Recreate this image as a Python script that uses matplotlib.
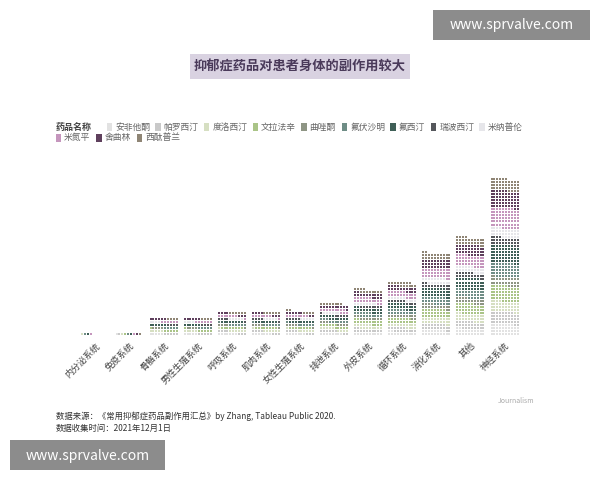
import numpy as np
import matplotlib.pyplot as plt
import matplotlib.patches as mpatches

plt.rcParams['font.family'] = ['Noto Sans CJK SC', 'DejaVu Sans']

systems = ['内分泌系统', '免疫系统', '骨骼系统', '男性生殖系统', '呼吸系统', '肌肉系统',
           '女性生殖系统', '排泄系统', '外皮系统', '循环系统', '消化系统', '其他', '神经系统']
drugs = ['安非他酮', '帕罗西汀', '度洛西汀', '文拉法辛', '曲唑酮', '氟伏沙明',
         '氟西汀', '瑞波西汀', '米纳普伦', '米氮平', '舍曲林', '西酞普兰']
colors = ['#e2e2e2', '#c9c9c9', '#d6dfc2', '#aac487', '#8e9584', '#6f8d86',
          '#3f5f57', '#55575c', '#e6e6ea', '#c596bd', '#5f405d', '#8f8575']

# side-effect counts per drug (rows) and system (columns)
counts = np.array([
    [0, 1, 5, 5, 7, 7, 7, 8, 10, 12, 18, 22, 38],   # 安非他酮
    [0, 1, 5, 5, 7, 7, 7, 8, 12, 14, 20, 24, 40],   # 帕罗西汀
    [1, 1, 5, 5, 7, 7, 7, 9, 14, 14, 22, 26, 36],   # 度洛西汀
    [0, 1, 6, 6, 8, 8, 8, 11, 16, 18, 28, 34, 52],  # 文拉法辛
    [0, 0, 4, 4, 5, 5, 5, 7, 10, 12, 16, 18, 26],   # 曲唑酮
    [1, 1, 5, 5, 7, 7, 7, 10, 14, 16, 24, 28, 46],  # 氟伏沙明
    [1, 1, 6, 6, 8, 8, 9, 12, 16, 20, 30, 36, 60],  # 氟西汀
    [0, 0, 4, 4, 5, 5, 5, 6, 8, 10, 14, 18, 26],    # 瑞波西汀
    [0, 0, 4, 4, 5, 5, 5, 6, 8, 10, 16, 20, 30],    # 米纳普伦
    [1, 1, 6, 6, 8, 8, 8, 12, 18, 20, 32, 38, 64],  # 米氮平
    [0, 1, 6, 6, 7, 7, 8, 11, 16, 18, 30, 34, 58],  # 舍曲林
    [0, 1, 4, 4, 6, 6, 6, 8, 12, 14, 22, 26, 40],   # 西酞普兰
])

ncol = 10
fig = plt.figure(figsize=(6, 4.8), dpi=100)
ax = fig.add_axes([0.125, 0.30, 0.75, 0.35])

for i in range(len(systems)):
    k = 0
    for d in range(len(drugs)):
        n = counts[d, i]
        idx = np.arange(k, k + n)
        xs = i + (idx % ncol - (ncol - 1) / 2) * 0.085
        ys = idx // ncol + 0.5
        ax.scatter(xs, ys, s=3.0, marker='s', color=colors[d], linewidths=0)
        k += n

ax.set_xlim(-0.6, len(systems) - 0.4)
ax.set_ylim(0, 55)
ax.set_xticks(range(len(systems)))
ax.set_xticklabels(systems, rotation=45, ha='right', rotation_mode='anchor',
                   fontsize=6.5, color='#444444')
ax.set_yticks([])
ax.tick_params(axis='x', length=0)
for s in ax.spines.values():
    s.set_visible(False)

# title box
fig.patches.append(mpatches.Rectangle((0.317, 0.835), 0.366, 0.052, transform=fig.transFigure,
                                      facecolor='#d9d2e1', edgecolor='none'))
fig.text(0.5, 0.861, '抑郁症药品对患者身体的副作用较大', ha='center', va='center',
         fontsize=9.5, fontweight='bold', color='#4a3a5a')

# legend
fig.text(0.093, 0.735, '药品名称', fontsize=6.5, fontweight='bold', color='#444444', va='center')
x = 0.178
for j, name in enumerate(drugs):
    if j == 9:
        x = 0.093
    y = 0.735 if j < 9 else 0.713
    fig.patches.append(mpatches.Rectangle((x, y - 0.008), 0.009, 0.016, transform=fig.transFigure,
                                          facecolor=colors[j], edgecolor='none'))
    fig.text(x + 0.014, y, name, fontsize=6.3, color='#666666', va='center')
    x += 0.014 + len(name) * 0.0135 + 0.013

# source notes
fig.text(0.093, 0.128, '数据来源：《常用抑郁症药品副作用汇总》by Zhang, Tableau Public 2020.',
         fontsize=6, color='#333333')
fig.text(0.093, 0.103, '数据收集时间：2021年12月1日', fontsize=6, color='#333333')
fig.text(0.86, 0.16, 'Journalism', fontsize=5, color='#aaaaaa', ha='center', style='italic')

# watermarks
fig.patches.append(mpatches.Rectangle((0.722, 0.917), 0.262, 0.063, transform=fig.transFigure,
                                      facecolor='#8c8c8c', edgecolor='none'))
fig.text(0.853, 0.948, 'www.sprvalve.com', ha='center', va='center', fontsize=10, color='white')
fig.patches.append(mpatches.Rectangle((0.017, 0.02), 0.258, 0.063, transform=fig.transFigure,
                                      facecolor='#8c8c8c', edgecolor='none'))
fig.text(0.146, 0.051, 'www.sprvalve.com', ha='center', va='center', fontsize=10, color='white')

fig.savefig('out.png', dpi=100, facecolor='white')
